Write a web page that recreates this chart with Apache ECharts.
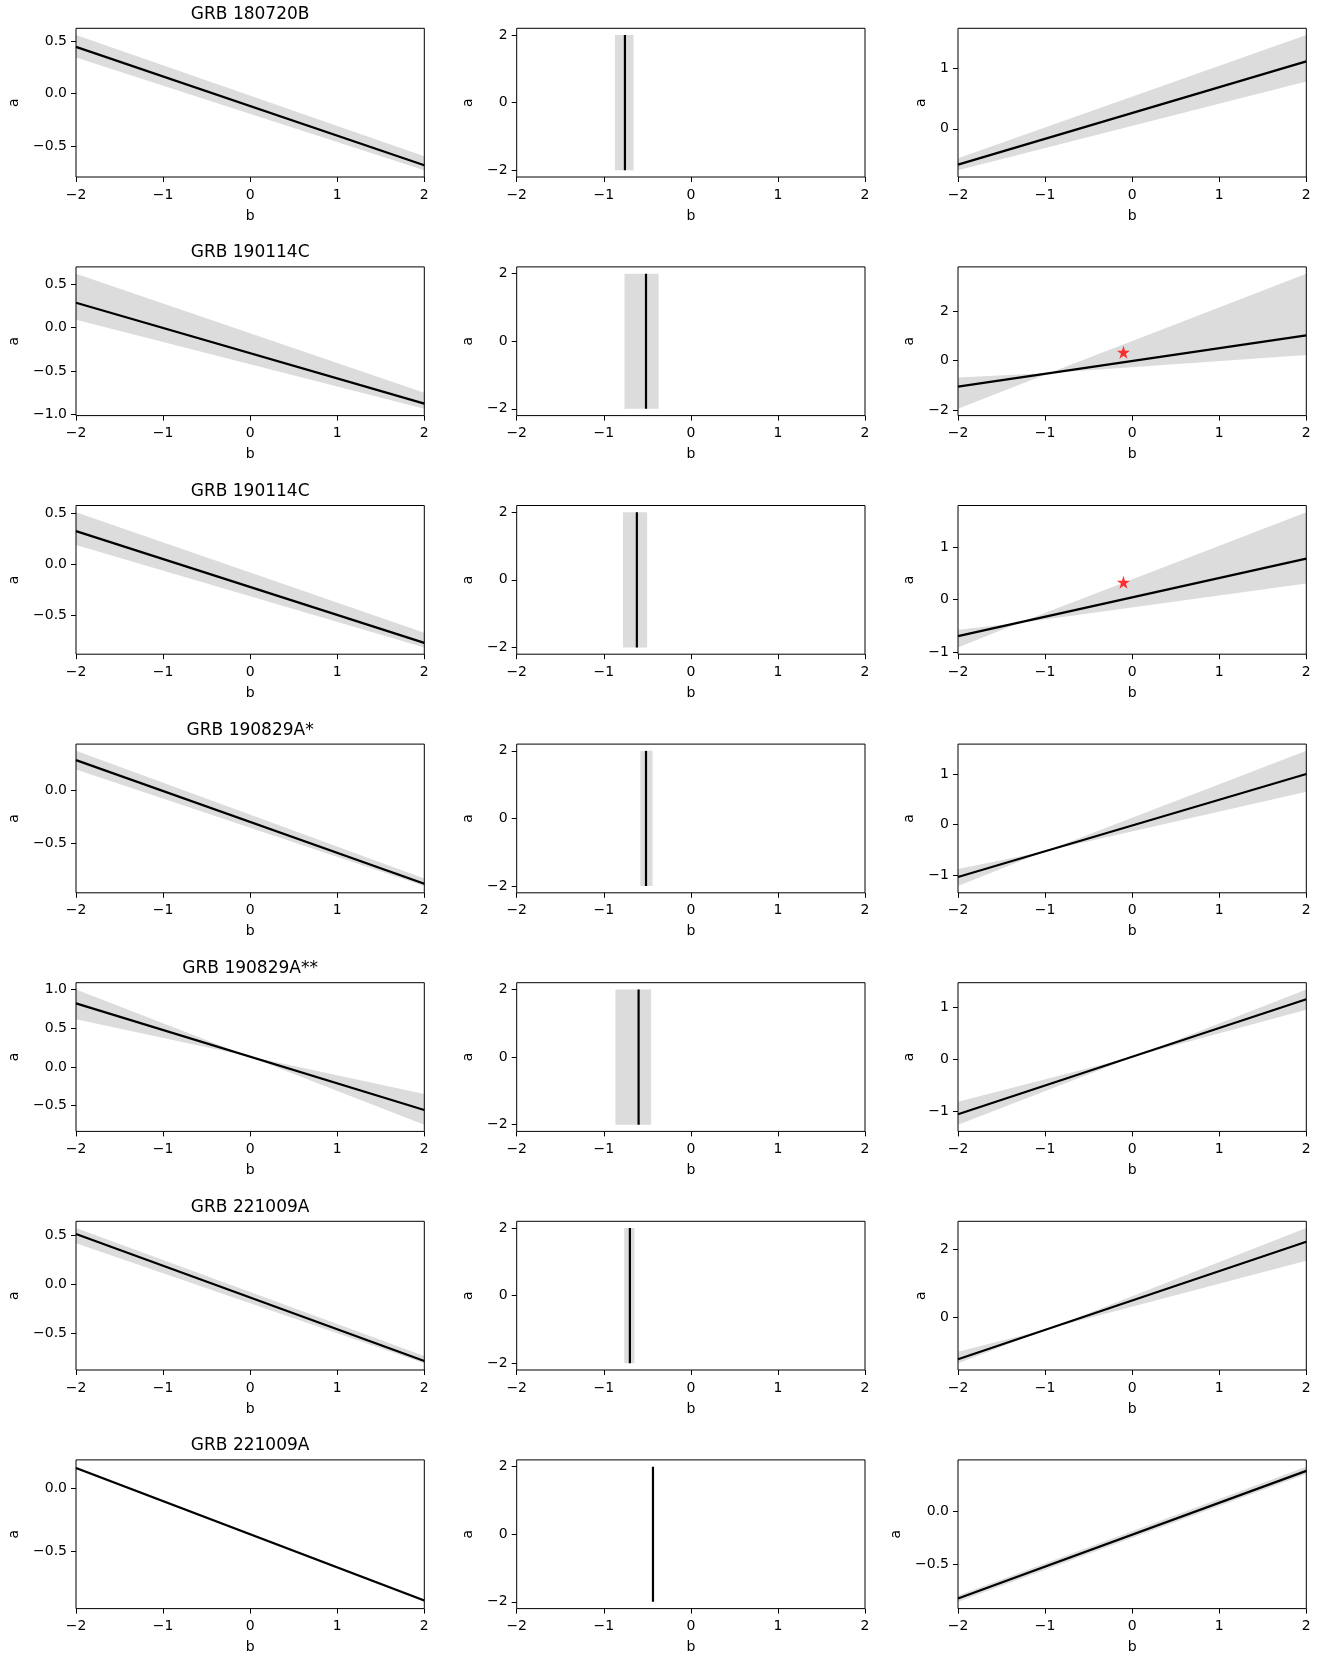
<!DOCTYPE html>
<html>
<head>
<meta charset="utf-8">
<script src="https://cdn.jsdelivr.net/npm/echarts@6/dist/echarts.min.js"></script>
<style>
html, body { margin: 0; padding: 0; background: #fff; }
#chart { width: 1336px; height: 1657px; }
</style>
</head>
<body>
<div id="chart"></div>
<script>
// row titles (left column)
var titles = ['GRB 180720B', 'GRB 190114C', 'GRB 190114C', 'GRB 190829A*', 'GRB 190829A**', 'GRB 221009A', 'GRB 221009A'];

var bTicks = [-2, -1, 0, 1, 2];
var aSpan = [-2, 2];

// left column: line value at b=-2 and b=2, band edges
var leftLine = [[0.445, -0.68], [0.285, -0.875], [0.325, -0.77], [0.2875, -0.878], [0.82, -0.556], [0.514, -0.777], [0.162, -0.887]];
var leftBandB = [[-2, 2], [-2, 2], [-2, 2], [-2, 2], [-2, -0.03, 2], [-2, 2], [-2, 2]];
var leftBandHi = [[0.557, -0.595], [0.62, -0.75], [0.51, -0.67], [0.375, -0.83], [1.0, 0.14, -0.35], [0.574, -0.726], [0.172, -0.877]];
var leftBandLo = [[0.345, -0.727], [0.09, -0.935], [0.19, -0.815], [0.20, -0.90], [0.616, 0.14, -0.745], [0.42, -0.80], [0.152, -0.897]];
var leftTicks = [[-0.5, 0, 0.5], [-1, -0.5, 0, 0.5], [-0.5, 0, 0.5], [-0.5, 0], [-0.5, 0, 0.5, 1], [-0.5, 0, 0.5], [-0.5, 0]];

// middle column: vertical line at b, band between two b values
var midLine = [-0.757, -0.515, -0.62, -0.515, -0.60, -0.70, -0.435];
var midBandLo = [-0.872, -0.762, -0.78, -0.58, -0.866, -0.765, -0.44];
var midBandHi = [-0.658, -0.37, -0.502, -0.44, -0.456, -0.648, -0.43];
var midTicks = [-2, 0, 2];

// right column
var rightLine = [[-0.597, 1.122], [-1.054, 1.01], [-0.69, 0.78], [-1.04, 1.0], [-1.06, 1.16], [-1.25, 2.22], [-0.828, 0.39]];
var rightBandB = [[-2, 2], [-2, -0.95, 2], [-2, -1.3, 2], [-2, -1.0, 2], [-2, 0.05, 2], [-2, -0.95, 2], [-2, 2]];
var rightBandHi = [[-0.49, 1.56], [-0.69, -0.51, 3.5], [-0.57, -0.44, 1.66], [-0.88, -0.53, 1.46], [-0.82, 0.07, 1.35], [-1.03, -0.34, 2.625], [-0.80, 0.43]];
var rightBandLo = [[-0.69, 0.785], [-1.95, -0.51, 0.216], [-0.906, -0.44, 0.31], [-1.22, -0.53, 0.65], [-1.26, 0.07, 0.96], [-1.37, -0.34, 1.656], [-0.86, 0.36]];
var rightTicks = [[0, 1], [-2, 0, 2], [-1, 0, 1], [-1, 0, 1], [-1, 0, 1], [0, 2], [-0.5, 0]];
var rightDecimals = [0, 0, 0, 0, 0, 0, 1];
var stars = [null, [-0.1, 0.33], [-0.1, 0.33], null, null, null, null];

// layout
var colLeft = [76, 516.7, 958];
var plotW = 348.3, plotH = 148.7;
var rowTop0 = 28.3, rowStep = 238.6;
var FONT = 'DejaVu Sans';
var bandColor = '#dcdcdc';

var ctx = document.createElement('canvas').getContext('2d');
ctx.font = '14px "' + FONT + '"';

function fmt(v, d) {
  var s = Math.abs(v).toFixed(d);
  return v < 0 ? '\u2212' + s : s;
}

// star marker path
var starPath = (function () {
  var p = [];
  for (var i = 0; i < 10; i++) {
    var r = i % 2 === 0 ? 1 : 0.382;
    var t = -Math.PI / 2 + i * Math.PI / 5;
    p.push((i === 0 ? 'M' : 'L') + (r * Math.cos(t)).toFixed(3) + ',' + (r * Math.sin(t)).toFixed(3));
  }
  return 'path://' + p.join(' ') + ' Z';
})();

var grids = [], xAxes = [], yAxes = [], series = [], graphics = [];

function addPanel(r, c, poly, linePts, ticks, dec, star) {
  var g = grids.length;
  var top = rowTop0 + r * rowStep;
  grids.push({ left: colLeft[c], top: top, width: plotW, height: plotH, show: true,
    borderColor: '#000', borderWidth: 1, backgroundColor: 'transparent', z: 5 });

  // matplotlib-like autoscale: data extent + 5% margin
  var ys = poly.map(function (p) { return p[1]; }).concat(linePts.map(function (p) { return p[1]; }));
  if (star) ys.push(star[1]);
  var lo = Math.min.apply(null, ys), hi = Math.max.apply(null, ys);
  var m = (hi - lo) * 0.05;

  var maxW = 0;
  ticks.forEach(function (t) { maxW = Math.max(maxW, ctx.measureText(fmt(t, dec)).width); });

  xAxes.push({
    type: 'value', gridIndex: g, min: -2, max: 2, interval: 1,
    name: 'b', nameLocation: 'middle', nameGap: 32,
    nameTextStyle: { color: '#000', fontSize: 14, fontFamily: FONT },
    axisLine: { show: false, onZero: false },
    axisTick: { show: true, length: 5, lineStyle: { color: '#000', width: 1 } },
    axisLabel: { show: true, margin: 11, color: '#000', fontSize: 14, fontFamily: FONT,
      showMinLabel: true, showMaxLabel: true, formatter: function (v) { return fmt(v, 0); } },
    splitLine: { show: false }
  });
  yAxes.push({
    type: 'value', gridIndex: g, min: lo - m, max: hi + m,
    name: 'a', nameLocation: 'middle', nameRotate: 90, nameGap: 10 + maxW + 11,
    nameTextStyle: { color: '#000', fontSize: 14, fontFamily: FONT },
    axisLine: { show: false, onZero: false },
    axisTick: { show: true, length: 5, lineStyle: { color: '#000', width: 1 }, customValues: ticks },
    axisLabel: { show: true, margin: 9, color: '#000', fontSize: 14, fontFamily: FONT,
      customValues: ticks, formatter: function (v) { return fmt(v, dec); } },
    splitLine: { show: false }
  });

  series.push({
    type: 'custom', xAxisIndex: g, yAxisIndex: g, clip: true, silent: true, z: 2,
    data: poly,
    renderItem: function (params, api) {
      if (params.dataIndex !== 0) return null;
      return { type: 'polygon', shape: { points: poly.map(function (p) { return api.coord(p); }) },
        style: { fill: bandColor } };
    }
  });
  series.push({
    type: 'line', xAxisIndex: g, yAxisIndex: g, data: linePts, symbol: 'none', silent: true, z: 3,
    lineStyle: { color: '#000', width: 2.2 }
  });
  if (star) {
    series.push({
      type: 'scatter', xAxisIndex: g, yAxisIndex: g, data: [star], symbol: starPath, symbolSize: 13,
      itemStyle: { color: '#ff0000' }, silent: true, z: 4
    });
  }
}

function bandPoly(bs, his, los) {
  var pts = [];
  for (var i = 0; i < bs.length; i++) pts.push([bs[i], his[i]]);
  for (var j = bs.length - 1; j >= 0; j--) pts.push([bs[j], los[j]]);
  return pts;
}

for (var r = 0; r < titles.length; r++) {
  addPanel(r, 0, bandPoly(leftBandB[r], leftBandHi[r], leftBandLo[r]),
    [[bTicks[0], leftLine[r][0]], [bTicks[4], leftLine[r][1]]], leftTicks[r], 1, null);
  addPanel(r, 1, [[midBandLo[r], aSpan[0]], [midBandHi[r], aSpan[0]], [midBandHi[r], aSpan[1]], [midBandLo[r], aSpan[1]]],
    [[midLine[r], aSpan[0]], [midLine[r], aSpan[1]]], midTicks, 0, null);
  addPanel(r, 2, bandPoly(rightBandB[r], rightBandHi[r], rightBandLo[r]),
    [[bTicks[0], rightLine[r][0]], [bTicks[4], rightLine[r][1]]], rightTicks[r], rightDecimals[r], stars[r]);

  graphics.push({
    type: 'text', x: colLeft[0] + plotW / 2, y: rowTop0 + r * rowStep - 5.5,
    style: { text: titles[r], fill: '#000', font: '17px "' + FONT + '"', align: 'center', verticalAlign: 'bottom' }
  });
}

var chart = echarts.init(document.getElementById('chart'), null, { renderer: 'canvas' });
chart.setOption({
  animation: false,
  backgroundColor: '#fff',
  textStyle: { fontFamily: FONT },
  grid: grids,
  xAxis: xAxes,
  yAxis: yAxes,
  series: series,
  graphic: graphics
});
</script>
</body>
</html>
